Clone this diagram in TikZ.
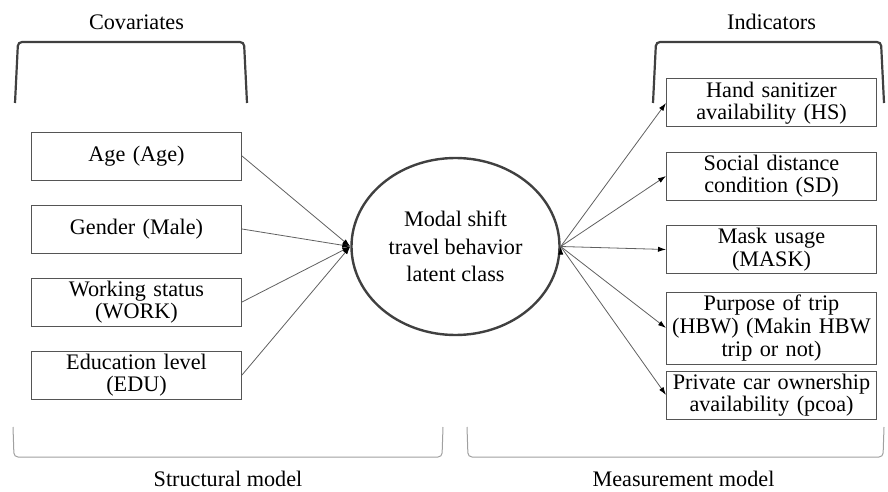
\documentclass[tikz,border=0pt]{standalone}
\usepackage{fontspec}
\setmainfont{Liberation Serif}
\usetikzlibrary{positioning,shapes.geometric,arrows.meta}
\definecolor{bracketgray}{HTML}{404040}
\definecolor{boxgray}{HTML}{555555}
\definecolor{linegray}{HTML}{606060}
\definecolor{thingray}{HTML}{A0A0A0}

\begin{document}
\begin{tikzpicture}[x=0.5pt,y=-0.5pt,node distance=36.5pt,on grid,
    every node/.style={font=\fontsize{11.1}{11.3}\selectfont},
    var/.style={draw=boxgray,line width=0.5pt,text width=101pt,inner xsep=2pt,inner ysep=1pt,minimum height=24pt,align=center},
    latent/.style={ellipse,draw=bracketgray,line width=1.2pt,minimum width=95.5pt,minimum height=88.5pt,align=center,font=\fontsize{11.1}{13.75}\selectfont},
    link/.style={draw=linegray,line width=0.4pt,-{Latex[length=4pt,width=2.6pt,black]}},
    bracket/.style={draw=bracketgray,line width=1.1pt,rounded corners=2pt},
    thinbracket/.style={draw=thingray,line width=0.5pt,rounded corners=2pt}]

\useasboundingbox (0,0) rectangle (888,492);

\node[latent] (lc) at (455.5,246.5) {Modal shift\\travel behavior\\latent class};

% covariates
\node[var] (age) at (136.5,156) {Age (Age)};
\node[var] (male) [below=of age] {Gender (Male)};
\node[var] (work) [below=of male] {Working status\\(WORK)};
\node[var] (edu) [below=of work] {Education level\\(EDU)};

% indicators
\node[var] (hs) at (771.5,103) {Hand sanitizer\\availability (HS)};
\node[var] (sd) [below=of hs] {Social distance\\condition (SD)};
\node[var] (mask) [below=36.75pt of sd] {Mask usage\\(MASK)};
\node[var,minimum height=36pt] (hbw) [below=39.25pt of mask] {Purpose of trip\\(HBW) (Makin HBW\\trip or not)};
\node[var] (pcoa) [below=33.5pt of hbw] {Private car ownership\\availability (pcoa)};

% group labels
\node[anchor=base] (cov) at (136.5,30) {Covariates};
\node[anchor=base] (ind) at (771.5,30) {Indicators};
\node[anchor=base] (sm) at (228,486) {Structural model};
\node[anchor=base] (mm) at (683.5,486) {Measurement model};

\draw[bracket] (15,103) -- (18,42) -- (244,42) -- (247,103);
\draw[bracket] (653,103) -- (656,42) -- (881,42) -- (884,103);
\draw[thinbracket] (13,427) -- (14,457) -- (442,457) -- (443,427);
\draw[thinbracket] (467,427) -- (468,457) -- (883,457) -- (884,427);

\path[link]
  (age.east) edge (lc.west)
  (male.east) edge (lc.west)
  (work.east) edge (lc.west)
  (edu.east) edge (lc.west)
  (lc.east) edge (hs.west)
  edge (sd.west)
  edge (mask.west)
  edge (hbw.west)
  edge (pcoa.west);
\end{tikzpicture}
\end{document}
